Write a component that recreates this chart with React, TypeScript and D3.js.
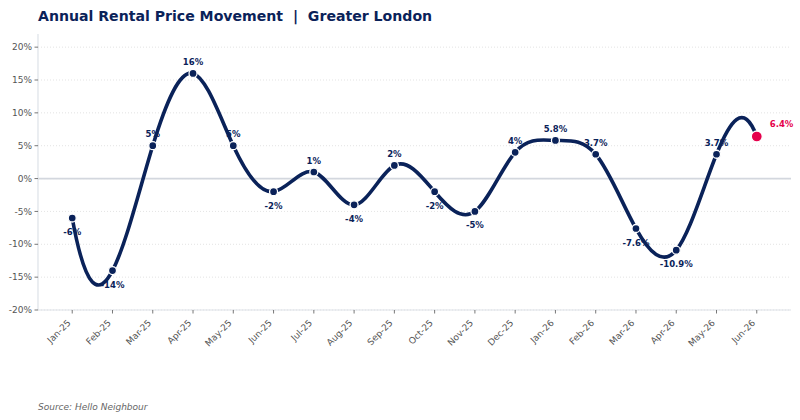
import React from "react";
import * as d3 from "d3";

// Annual change in rents, month by month
const months = [
  "Jan-25", "Feb-25", "Mar-25", "Apr-25", "May-25", "Jun-25",
  "Jul-25", "Aug-25", "Sep-25", "Oct-25", "Nov-25", "Dec-25",
  "Jan-26", "Feb-26", "Mar-26", "Apr-26", "May-26", "Jun-26",
];
const changes = [-6, -14, 5, 16, 5, -2, 1, -4, 2, -2, -5, 4, 5.8, 3.7, -7.6, -10.9, 3.7, 6.4];
const yTicks = [-20, -15, -10, -5, 0, 5, 10, 15, 20];

const NAVY = "#0a2259";
const RED = "#e5004c";
const width = 800;
const height = 420;
const margin = { top: 34, right: 9, bottom: 110, left: 38 };

// cubic spline with not-a-knot ends, written as a d3 curve factory
function secondDerivs(xs: number[], ys: number[]): number[] {
  const n = xs.length;
  const h = d3.range(n - 1).map((i) => xs[i + 1] - xs[i]);
  const d = d3.range(n - 1).map((i) => (ys[i + 1] - ys[i]) / h[i]);
  const A = d3.range(n).map(() => new Array(n).fill(0));
  const b = new Array(n).fill(0);
  A[0][0] = h[1];
  A[0][1] = -(h[0] + h[1]);
  A[0][2] = h[0];
  for (let i = 1; i < n - 1; i++) {
    A[i][i - 1] = h[i - 1];
    A[i][i] = 2 * (h[i - 1] + h[i]);
    A[i][i + 1] = h[i];
    b[i] = 6 * (d[i] - d[i - 1]);
  }
  A[n - 1][n - 3] = h[n - 2];
  A[n - 1][n - 2] = -(h[n - 3] + h[n - 2]);
  A[n - 1][n - 1] = h[n - 3];
  // gaussian elimination with partial pivoting
  for (let c = 0; c < n; c++) {
    let p = c;
    for (let r = c + 1; r < n; r++) if (Math.abs(A[r][c]) > Math.abs(A[p][c])) p = r;
    [A[c], A[p]] = [A[p], A[c]];
    [b[c], b[p]] = [b[p], b[c]];
    for (let r = c + 1; r < n; r++) {
      const f = A[r][c] / A[c][c];
      if (!f) continue;
      for (let k = c; k < n; k++) A[r][k] -= f * A[c][k];
      b[r] -= f * b[c];
    }
  }
  const M = new Array(n).fill(0);
  for (let r = n - 1; r >= 0; r--) {
    let s = b[r];
    for (let k = r + 1; k < n; k++) s -= A[r][k] * M[k];
    M[r] = s / A[r][r];
  }
  return M;
}

function curveSpline(context: any) {
  let xs: number[] = [];
  let ys: number[] = [];
  return {
    areaStart() {},
    areaEnd() {},
    lineStart() {
      xs = [];
      ys = [];
    },
    point(x: number, y: number) {
      xs.push(+x);
      ys.push(+y);
    },
    lineEnd() {
      const n = xs.length;
      if (!n) return;
      context.moveTo(xs[0], ys[0]);
      if (n < 4) {
        for (let i = 1; i < n; i++) context.lineTo(xs[i], ys[i]);
        return;
      }
      const M = secondDerivs(xs, ys);
      for (let i = 0; i < n - 1; i++) {
        const h = xs[i + 1] - xs[i];
        const dd = (ys[i + 1] - ys[i]) / h;
        const s0 = dd - (h * (2 * M[i] + M[i + 1])) / 6;
        const s1 = dd + (h * (M[i] + 2 * M[i + 1])) / 6;
        context.bezierCurveTo(
          xs[i] + h / 3, ys[i] + (s0 * h) / 3,
          xs[i + 1] - h / 3, ys[i + 1] - (s1 * h) / 3,
          xs[i + 1], ys[i + 1]
        );
      }
    },
  };
}

const fmt = (v: number) => `${v}%`;

export default function App() {
  const n = months.length;
  const x = d3.scaleLinear().domain([-0.85, n - 1 + 0.85]).range([margin.left, width - margin.right]);
  const y = d3.scaleLinear().domain([-20, 22]).range([height - margin.bottom, margin.top]);
  const line = d3.line<number>().x((_, i) => x(i)).y((d) => y(d)).curve(curveSpline as any);
  const last = n - 1;
  const x0 = margin.left;
  const x1 = width - margin.right;
  const yBottom = y(-20);

  return (
    <svg
      width={width}
      height={height}
      style={{ position: "absolute", left: 0, top: 0, background: "#fff", fontFamily: "DejaVu Sans" }}
    >
      <text x={38} y={20.5} fill={NAVY} fontSize={14.1} fontWeight="bold" style={{ whiteSpace: "pre" }}>
        {"Annual Rental Price Movement  |  Greater London"}
      </text>

      {/* grid */}
      {yTicks.map((t) => (
        <line key={t} x1={x0} x2={x1} y1={y(t)} y2={y(t)} stroke="#dcdcdc" strokeWidth={0.8} strokeDasharray="1,2" />
      ))}
      <line x1={x0} x2={x1} y1={y(0)} y2={y(0)} stroke="#d3d7de" strokeWidth={1.8} />

      {/* spines */}
      <line x1={x0} x2={x0} y1={margin.top} y2={yBottom} stroke="#dde2e8" strokeWidth={1.2} />
      <line x1={x0} x2={x1} y1={yBottom} y2={yBottom} stroke="#dde2e8" strokeWidth={1.2} />

      {/* y axis */}
      {yTicks.map((t) => (
        <g key={t}>
          <line x1={x0 - 3.5} x2={x0} y1={y(t)} y2={y(t)} stroke="#555" strokeWidth={0.8} />
          <text x={x0 - 6} y={y(t)} dy="0.35em" textAnchor="end" fontSize={9} fill="#555">
            {fmt(t)}
          </text>
        </g>
      ))}

      {/* x axis */}
      {months.map((m, i) => (
        <g key={m}>
          <line x1={x(i)} x2={x(i)} y1={yBottom} y2={yBottom + 3.5} stroke="#555" strokeWidth={0.8} />
          <text
            transform={`translate(${x(i) - 1},${yBottom + 13.5}) rotate(-45)`}
            textAnchor="end"
            fontSize={9}
            fill="#555"
          >
            {m}
          </text>
        </g>
      ))}

      {/* value labels sit under the line */}
      {changes.map((v, i) =>
        i === last ? (
          <text key={i} x={x(i) + 13} y={y(v) - 10} fontSize={8.5} fontWeight="bold" fill={RED}>
            {fmt(v)}
          </text>
        ) : (
          <text
            key={i}
            x={x(i)}
            y={v >= 0 ? y(v) - 8.5 : y(v) + 17}
            textAnchor="middle"
            fontSize={8.5}
            fontWeight="bold"
            fill={NAVY}
          >
            {fmt(v)}
          </text>
        )
      )}

      <path d={line(changes) || ""} fill="none" stroke={NAVY} strokeWidth={3.6} strokeLinecap="round" />

      {changes.map((v, i) => (
        <circle
          key={i}
          cx={x(i)}
          cy={y(v)}
          r={i === last ? 5.5 : 4}
          fill={i === last ? RED : NAVY}
          stroke="#fff"
          strokeWidth={1.3}
        />
      ))}

      <text x={38} y={410} fontSize={9} fontStyle="italic" fill="#666">
        Source: Hello Neighbour
      </text>
    </svg>
  );
}
